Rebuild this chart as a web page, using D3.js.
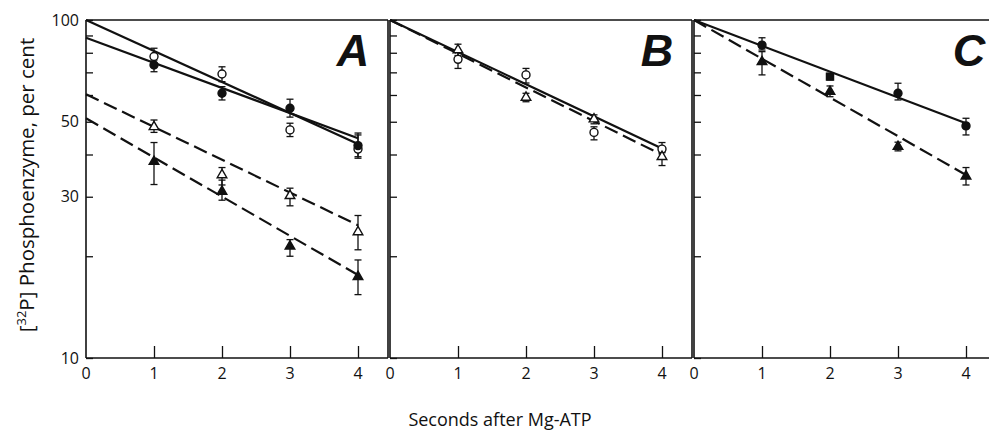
<!DOCTYPE html>
<html><head><meta charset="utf-8">
<script src="https://cdn.jsdelivr.net/npm/d3@7"></script>
<style>body{margin:0;background:#fff}svg{display:block}text{font-family:"Open Sans",sans-serif;fill:#111}</style>
</head><body><svg id="c" width="989" height="432"></svg>
<script>
// ---------- data ----------
const xPoints = [1, 2, 3, 4];
const lineX = [0, 4];
const panelLetters = ["A", "B", "C"];
const xTickLabels = [0, 1, 2, 3, 4];
const yTickValues = [10, 20, 30, 40, 50, 60, 70, 80, 90, 100];
const yTickLabels = [10, 30, 50, 100];

// Panel A
const aOpenCircle = [78.0, 69.2, 47.3, 41.5];
const aOpenCircleHi = [82.5, 72.7, 49.5, 45.7];
const aOpenCircleLo = [74.5, 65.7, 45.2, 39.4];
const aFilledCircle = [73.6, 60.7, 54.8, 42.5];
const aFilledCircleHi = [76.1, 63.5, 58.3, 46.3];
const aFilledCircleLo = [70.3, 58.0, 51.6, 39.0];
const aOpenTri = [48.3, 34.8, 30.2, 23.6];
const aOpenTriHi = [50.6, 36.6, 31.8, 26.4];
const aOpenTriLo = [46.5, 32.5, 28.2, 20.9];
const aFilledTri = [38.1, 31.1, 21.4, 17.4];
const aFilledTriHi = [43.4, 33.6, 22.4, 19.5];
const aFilledTriLo = [32.6, 29.3, 20.0, 15.4];
const aLineOpenCircle = [100, 43.0];
const aLineFilledCircle = [88.6, 44.7];
const aLineOpenTri = [60.3, 24.7];
const aLineFilledTri = [51.2, 17.6];

// Panel B
const bOpenCircle = [76.5, 68.8, 46.5, 41.5];
const bOpenCircleHi = [81.0, 71.9, 48.3, 43.4];
const bOpenCircleLo = [71.9, 65.1, 44.2, 40.5];
const bOpenTri = [81.5, 59.0, 50.9, 39.4];
const bOpenTriHi = [84.8, 60.7, 52.4, 41.0];
const bOpenTriLo = [78.5, 57.3, 49.3, 37.1];
const bLineSolid = [100, 41.7];
const bLineDashed = [100, 39.9];

// Panel C
const cFilledCircleX = [1, 3, 4];
const cFilledCircle = [84.3, 60.7, 48.6];
const cFilledCircleHi = [88.6, 65.0, 51.2];
const cFilledCircleLo = [81.5, 58.0, 45.7];
const cSquareX = [2];
const cSquare = [68.0];
const cSquareHi = [69.5];
const cSquareLo = [66.5];
const cFilledTri = [75.2, 61.4, 42.2, 34.5];
const cFilledTriHi = [80.6, 63.8, 43.5, 36.6];
const cFilledTriLo = [68.8, 59.3, 41.0, 32.5];
const cLineSolid = [100, 49.5];
const cLineDashed = [100, 34.8];

// ---------- layout ----------
const svg = d3.select("#c");
const plotTop = 20, plotBottom = 358;
const panelLeft = [86, 390, 694];
const panelRight = [388, 692, 989];
const unitW = 68;
const y = d3.scaleLog().domain([10, 100]).range([plotBottom, plotTop]);
const xScales = panelLeft.map(l => d3.scaleLinear().domain([0, 4]).range([l, l + 4 * unitW]));

const ink = "#111";
const DASH = "14,6";

panelLeft.forEach((l, i) => {
  const r = panelRight[i];
  const g = svg.append("g");
  g.append("line").attr("x1", l).attr("x2", r).attr("y1", plotTop).attr("y2", plotTop).attr("stroke", ink).attr("stroke-width", 1.5);
  g.append("line").attr("x1", l).attr("x2", r).attr("y1", plotBottom).attr("y2", plotBottom).attr("stroke", ink).attr("stroke-width", 1.5);
  g.append("line").attr("x1", l).attr("x2", l).attr("y1", plotTop).attr("y2", plotBottom).attr("stroke", ink).attr("stroke-width", 1.6);
  if (i < 2) g.append("line").attr("x1", r).attr("x2", r).attr("y1", plotTop).attr("y2", plotBottom).attr("stroke", ink).attr("stroke-width", 1.6);

  const yAxis = d3.axisRight(y).tickValues(yTickValues).tickSize(7).tickFormat("");
  const ga = g.append("g").attr("transform", `translate(${l},0)`).call(yAxis);
  ga.select(".domain").remove();
  ga.selectAll("line").attr("stroke", ink).attr("stroke-width", 1.3);

  const xAxis = d3.axisTop(xScales[i]).tickValues([1, 2, 3, 4]).tickSize(12).tickFormat("");
  const gx = g.append("g").attr("transform", `translate(0,${plotBottom})`).call(xAxis);
  gx.select(".domain").remove();
  gx.selectAll("line").attr("stroke", ink).attr("stroke-width", 1.3);

  g.selectAll("text.xt").data(xTickLabels).enter().append("text")
    .attr("x", d => xScales[i](d)).attr("y", 379)
    .attr("text-anchor", "middle").attr("font-size", 16).text(d => d);

  g.append("text").attr("x", xScales[i](4) - 5 + (i === 2 ? 8 : 0)).attr("y", 66)
    .attr("text-anchor", "middle")
    .style("font-family", "'Liberation Sans', Arial, sans-serif")
    .attr("font-weight", "bold").attr("font-style", "italic").attr("font-size", 45)
    .text(panelLetters[i]);
});

svg.selectAll("text.yl").data(yTickLabels).enter().append("text")
  .attr("x", 79).attr("y", d => y(d) + 5.5).attr("text-anchor", "end").attr("font-size", 16).text(d => d);

// ---------- marks ----------
function fitLine(p, vals, dashed) {
  const line = d3.line().x((d, k) => xScales[p](lineX[k])).y(d => y(d));
  svg.append("path").attr("d", line(vals)).attr("fill", "none").attr("stroke", ink)
    .attr("stroke-width", 2.2).attr("stroke-dasharray", dashed ? DASH : null);
}
function errBars(p, xs, hi, lo) {
  const g = svg.append("g").attr("stroke", ink).attr("stroke-width", 1.3);
  xs.forEach((xv, k) => {
    const cx = xScales[p](xv);
    g.append("line").attr("x1", cx).attr("x2", cx).attr("y1", y(hi[k])).attr("y2", y(lo[k]));
    g.append("line").attr("x1", cx - 3.5).attr("x2", cx + 3.5).attr("y1", y(hi[k])).attr("y2", y(hi[k]));
    g.append("line").attr("x1", cx - 3.5).attr("x2", cx + 3.5).attr("y1", y(lo[k])).attr("y2", y(lo[k]));
  });
}
function markers(p, xs, vals, shape, filled) {
  const sym = shape === "circle" ? d3.symbolCircle : shape === "square" ? d3.symbolSquare : d3.symbolTriangle;
  const size = shape === "circle" ? 50 : shape === "square" ? 50 : 40;
  svg.append("g").selectAll("path").data(vals).enter().append("path")
    .attr("d", d3.symbol().type(sym).size(size))
    .attr("transform", (d, k) => `translate(${xScales[p](xs[k])},${y(d)})`)
    .attr("fill", filled ? ink : "#fff").attr("stroke", ink).attr("stroke-width", 1.4);
}

fitLine(0, aLineOpenCircle, false);
fitLine(0, aLineFilledCircle, false);
fitLine(0, aLineOpenTri, true);
fitLine(0, aLineFilledTri, true);
errBars(0, xPoints, aOpenCircleHi, aOpenCircleLo);
errBars(0, xPoints, aFilledCircleHi, aFilledCircleLo);
errBars(0, xPoints, aOpenTriHi, aOpenTriLo);
errBars(0, xPoints, aFilledTriHi, aFilledTriLo);
markers(0, xPoints, aOpenCircle, "circle", false);
markers(0, xPoints, aFilledCircle, "circle", true);
markers(0, xPoints, aOpenTri, "triangle", false);
markers(0, xPoints, aFilledTri, "triangle", true);

fitLine(1, bLineSolid, false);
fitLine(1, bLineDashed, true);
errBars(1, xPoints, bOpenCircleHi, bOpenCircleLo);
errBars(1, xPoints, bOpenTriHi, bOpenTriLo);
markers(1, xPoints, bOpenCircle, "circle", false);
markers(1, xPoints, bOpenTri, "triangle", false);

fitLine(2, cLineSolid, false);
fitLine(2, cLineDashed, true);
errBars(2, cFilledCircleX, cFilledCircleHi, cFilledCircleLo);
errBars(2, cSquareX, cSquareHi, cSquareLo);
errBars(2, xPoints, cFilledTriHi, cFilledTriLo);
markers(2, cFilledCircleX, cFilledCircle, "circle", true);
markers(2, cSquareX, cSquare, "square", true);
markers(2, xPoints, cFilledTri, "triangle", true);

// ---------- axis titles ----------
const yl = svg.append("text").attr("transform", "translate(34,185) rotate(-90)")
  .attr("text-anchor", "middle").attr("font-size", 20.5);
yl.append("tspan").text("[");
yl.append("tspan").attr("font-size", 13).attr("dy", -8).text("32");
yl.append("tspan").attr("dy", 8).text("P] Phosphoenzyme, per cent");

svg.append("text").attr("x", 500).attr("y", 426).attr("text-anchor", "middle")
  .attr("font-size", 18).text("Seconds after Mg-ATP");
</script></body></html>
